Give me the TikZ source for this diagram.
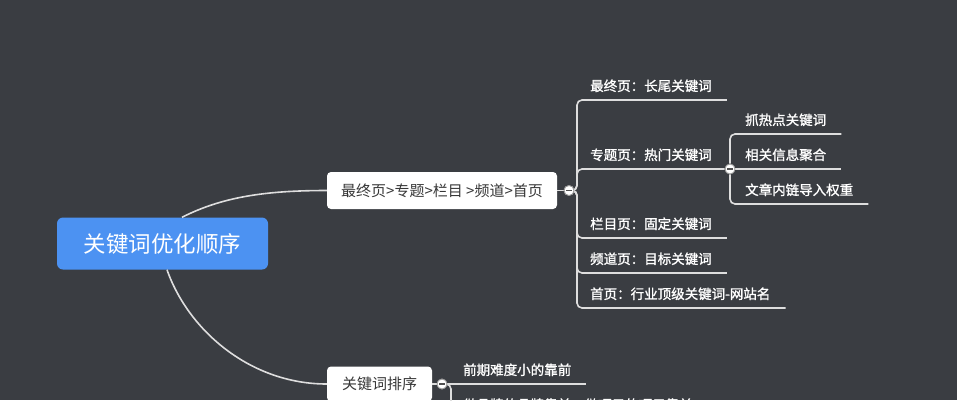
\documentclass[tikz,border=0pt]{standalone}
\usepackage{fontspec}
\setmainfont{Noto Sans CJK SC}
\newfontfamily\lblfont[FakeBold=1.3]{Noto Sans CJK SC}
\definecolor{bg}{RGB}{58,61,66}
\definecolor{rootblue}{RGB}{76,146,242}
\definecolor{linec}{RGB}{222,222,222}
\definecolor{boxtext}{RGB}{55,55,55}
\definecolor{toggray}{RGB}{150,150,150}
\definecolor{minusc}{RGB}{80,80,80}
\begin{document}
\begin{tikzpicture}[x=1pt,y=-1pt,
  conn/.style={draw=linec, line width=1.6pt},
  branch/.style={draw=linec, line width=1.6pt, rounded corners=5pt},
  lbl/.style={font=\lblfont\fontsize{13.5}{14}\selectfont, text=white, inner xsep=15pt, inner ysep=0pt, minimum height=28pt, anchor=south west},
  topicbox/.style={fill=white, rounded corners=4pt, text=boxtext, font=\fontsize{15}{16}\selectfont, inner sep=0pt},
  tog/.style={circle, fill=white, draw=toggray, line width=0.8pt, minimum size=10pt, inner sep=0pt,
    path picture={\draw[line width=1.3pt, draw=minusc] ([xshift=-2.8pt]path picture bounding box.center) -- ([xshift=2.8pt]path picture bounding box.center);}}
]
\useasboundingbox (0,0) rectangle (957,400);
\clip (0,0) rectangle (957,400);
\fill[bg] (0,0) rectangle (957,400);

% main topics
\node[topicbox, minimum width=230pt, minimum height=37pt] (A) at (442,190.5) {最终页>专题>栏目 >频道>首页};
\node[topicbox, minimum width=105pt, minimum height=35pt] (B) at (379.5,384) {关键词排序};

% root
\node[fill=rootblue, rounded corners=6pt, minimum width=211pt, minimum height=52pt, inner sep=0pt,
      text=white, font=\fontsize{22.5}{24}\selectfont] (root) at (162.5,243.5) {关键词优化顺序};

\draw[conn] ([xshift=19.5pt]root.north) .. controls (222,197) and (265,190.5) .. (A.west);
\draw[conn] ([xshift=4.5pt]root.south) .. controls (188,330) and (250,384) .. (B.west);

% toggles and junctions
\node[tog] (tA) at (569,190.5) {};
\coordinate (jA) at (577,190.5);
\node[tog] (tS) at (730,169) {};
\node[tog] (tB) at (442,384) {};
\coordinate (jB) at (451,384);

% children of A
\node[lbl] (a1) at (575,100) {最终页：长尾关键词};
\node[lbl] (a2) at (575,169) {专题页：热门关键词};
\node[lbl] (a3) at (575,238) {栏目页：固定关键词};
\node[lbl] (a4) at (575,273) {频道页：目标关键词};
\node[lbl] (a5) at (575,308) {首页：行业顶级关键词-网站名};

% sub-children
\node[lbl] (s1) at (730,134) {抓热点关键词};
\node[lbl] (s2) at (730,169) {相关信息聚合};
\node[lbl] (s3) at (730,204) {文章内链导入权重};

% children of B
\node[lbl] (b1) at (448,384) {前期难度小的靠前};
\node[lbl] (b2) at (448,419) {做品牌的品牌靠前，做项目的项目靠前};

% branches of A
\draw[conn] (A.east) -- (tA.west);
\draw[branch] (tA.east) -- (jA) |- (a1.south east);
\draw[branch] (tA.east) -- (jA) |- (tS.west);
\draw[branch] (tA.east) -- (jA) |- (a3.south east);
\draw[branch] (tA.east) -- (jA) |- (a4.south east);
\draw[branch] (tA.east) -- (jA) |- (a5.south east);

% branches of sub topic
\draw[branch] (tS.north) |- (s1.south east);
\draw[branch] (tS.east) -- (s2.south east);
\draw[branch] (tS.south) |- (s3.south east);

% branches of B
\draw[conn] (B.east) -- (tB.west);
\draw[branch] (tB.east) -- (b1.south east);
\draw[branch] (tB.east) -- (jB) |- (b2.south east);

% redraw toggles on top
\node[tog] at (tA) {};
\node[tog] at (tS) {};
\node[tog] at (tB) {};
\end{tikzpicture}
\end{document}
